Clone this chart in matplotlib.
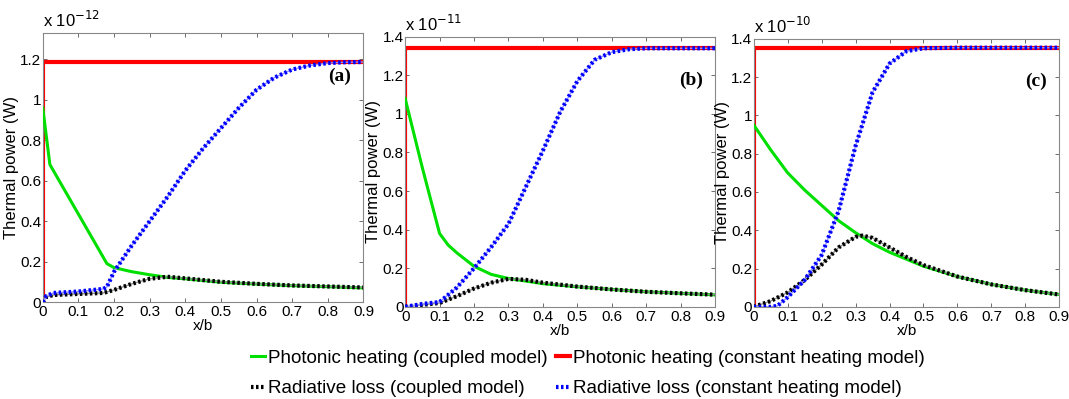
# Thermal power along x/b - three cases, coupled vs constant heating model

import numpy as np
import matplotlib
matplotlib.use("Agg")
import matplotlib.pyplot as plt
from matplotlib import font_manager

# pick a narrow sans if we have one (MATLAB export look)
names = {f.name for f in font_manager.fontManager.ttflist}
narrow = "Liberation Sans Narrow" if "Liberation Sans Narrow" in names else "Liberation Sans"
plt.rcParams["font.family"] = [narrow, "DejaVu Sans"]

# ---- data (values in units of the panel exponent) ----
# panel (a), x 1e-12
xa_green = [0, 0.02, 0.18, 0.2, 0.25, 0.3, 0.35, 0.4, 0.5, 0.6, 0.7, 0.8, 0.9]
ya_green = [0.96, 0.68, 0.19, 0.17, 0.15, 0.135, 0.122, 0.115, 0.098, 0.089, 0.081, 0.076, 0.07]
xa_red = [0, 0, 0.9]
ya_red = [0, 1.187, 1.187]
xa_black = [0, 0.01, 0.03, 0.1, 0.17, 0.2, 0.25, 0.3, 0.35, 0.4, 0.5, 0.6, 0.7, 0.8, 0.9]
ya_black = [0.0, 0.025, 0.035, 0.04, 0.045, 0.06, 0.09, 0.115, 0.125, 0.117, 0.1, 0.09, 0.082, 0.077, 0.072]
xa_blue = [0, 0.01, 0.03, 0.1, 0.17, 0.18, 0.2, 0.25, 0.3, 0.35, 0.4, 0.45, 0.5, 0.55, 0.6, 0.65, 0.7, 0.75, 0.8, 0.85, 0.9]
ya_blue = [0.0, 0.03, 0.045, 0.052, 0.065, 0.075, 0.15, 0.28, 0.40, 0.52, 0.65, 0.76, 0.86, 0.96, 1.05, 1.11, 1.15, 1.17, 1.182, 1.186, 1.187]

# panel (b), x 1e-11
xb_green = [0, 0.025, 0.05, 0.075, 0.1, 0.125, 0.15, 0.2, 0.25, 0.3, 0.4, 0.5, 0.6, 0.7, 0.8, 0.9]
yb_green = [1.08, 0.9, 0.72, 0.55, 0.38, 0.32, 0.28, 0.21, 0.168, 0.147, 0.12, 0.104, 0.09, 0.078, 0.07, 0.062]
xb_red = [0, 0, 0.9]
yb_red = [0, 1.34, 1.34]
xb_black = [0, 0.05, 0.1, 0.15, 0.2, 0.25, 0.3, 0.35, 0.4, 0.5, 0.6, 0.7, 0.8, 0.9]
yb_black = [0.0, 0.01, 0.02, 0.055, 0.095, 0.125, 0.145, 0.14, 0.125, 0.105, 0.09, 0.078, 0.07, 0.063]
xb_blue = [0, 0.05, 0.1, 0.15, 0.2, 0.25, 0.3, 0.35, 0.4, 0.45, 0.5, 0.55, 0.6, 0.65, 0.7, 0.8, 0.9]
yb_blue = [0.0, 0.015, 0.025, 0.1, 0.2, 0.31, 0.43, 0.62, 0.81, 1.01, 1.17, 1.28, 1.32, 1.335, 1.34, 1.34, 1.34]

# panel (c), x 1e-10
xc_green = [0, 0.05, 0.1, 0.15, 0.2, 0.25, 0.3, 0.35, 0.4, 0.5, 0.6, 0.7, 0.8, 0.9]
yc_green = [0.95, 0.82, 0.70, 0.61, 0.53, 0.45, 0.387, 0.33, 0.285, 0.212, 0.158, 0.117, 0.087, 0.064]
xc_red = [0, 0, 0.9]
yc_red = [0, 1.353, 1.353]
xc_black = [0, 0.05, 0.1, 0.15, 0.2, 0.25, 0.3, 0.32, 0.35, 0.4, 0.45, 0.5, 0.6, 0.7, 0.8, 0.9]
yc_black = [0.0, 0.03, 0.075, 0.14, 0.22, 0.31, 0.365, 0.372, 0.36, 0.31, 0.26, 0.218, 0.158, 0.117, 0.087, 0.064]
xc_blue = [0, 0.05, 0.07, 0.1, 0.15, 0.2, 0.25, 0.3, 0.35, 0.4, 0.45, 0.5, 0.6, 0.7, 0.9]
yc_blue = [0.0, 0.0, 0.005, 0.05, 0.14, 0.27, 0.5, 0.84, 1.12, 1.27, 1.335, 1.35, 1.353, 1.353, 1.353]

panels = [
    ("(a)", -12, 1.33, [0.040, 0.243, 0.300, 0.674],
     (xa_green, ya_green), (xa_red, ya_red), (xa_black, ya_black), (xa_blue, ya_blue)),
    ("(b)", -11, 1.4, [0.379, 0.231, 0.290, 0.677],
     (xb_green, yb_green), (xb_red, yb_red), (xb_black, yb_black), (xb_blue, yb_blue)),
    ("(c)", -10, 1.4, [0.705, 0.231, 0.286, 0.672],
     (xc_green, yc_green), (xc_red, yc_red), (xc_black, yc_black), (xc_blue, yc_blue)),
]

fig = plt.figure(figsize=(10.69, 3.99), dpi=100)

for tag, expo, ytop, rect, green, red, black, blue in panels:
    ax = fig.add_axes(rect)
    ax.plot(red[0], red[1], color="#ff0000", lw=3, solid_capstyle="butt", zorder=2)
    ax.plot(green[0], green[1], color="#00e000", lw=2.2, zorder=3)
    ax.plot(black[0], black[1], color="#909090", lw=1, zorder=4)
    ax.plot(black[0], black[1], color="black", lw=3, ls=(0, (0.6, 0.6)), zorder=5)
    ax.plot(blue[0], blue[1], color="#9090ff", lw=1, zorder=6)
    ax.plot(blue[0], blue[1], color="#0000ff", lw=3, ls=(0, (0.6, 0.6)), zorder=7)

    ax.set_xlim(0, 0.9)
    ax.set_xticks(np.arange(0, 0.91, 0.1))
    ax.set_yticks(np.arange(0, 1.41, 0.2))
    ax.set_ylim(0, ytop)
    ax.xaxis.set_major_formatter(plt.FuncFormatter(lambda v, p: "%g" % round(v, 2)))
    ax.yaxis.set_major_formatter(plt.FuncFormatter(lambda v, p: "%g" % round(v, 2)))
    ax.tick_params(direction="in", top=True, right=True, length=3, width=0.6,
                   labelsize=11, pad=1, color="#555555")
    ax.tick_params(axis="x", pad=2)
    for s in ax.spines.values():
        s.set_color("#888888")
        s.set_linewidth(0.8)

    ax.set_xlabel("x/b", fontsize=11, labelpad=0)
    ax.set_ylabel("Thermal power (W)", fontsize=12, labelpad=1)
    ax.text(0.0, 1.01, r"x 10$^{%d}$" % expo, transform=ax.transAxes, fontsize=12,
            ha="left", va="bottom")
    ax.text(0.96, 0.84, tag, transform=ax.transAxes, fontsize=14, fontweight="bold",
            family=["Liberation Serif", "DejaVu Serif"], ha="right", va="center")

# shared legend under the panels
h = [plt.Line2D([], [], color="#00e000", lw=2.2),
     plt.Line2D([], [], color="black", lw=3, ls=(0, (0.6, 0.6))),
     plt.Line2D([], [], color="#ff0000", lw=3),
     plt.Line2D([], [], color="#0000ff", lw=3, ls=(0, (0.6, 0.6)))]
labels = ["Photonic heating (coupled model)", "Radiative loss (coupled model)",
          "Photonic heating (constant heating model)", "Radiative loss (constant heating model)"]
fig.legend(h, labels, ncol=2, loc="lower left", bbox_to_anchor=(0.228, -0.015),
           frameon=False, fontsize=13.6, handlelength=0.7, handletextpad=0.2,
           columnspacing=0.45, labelspacing=0.7, borderaxespad=0)

fig.savefig("out.png", dpi=100)
